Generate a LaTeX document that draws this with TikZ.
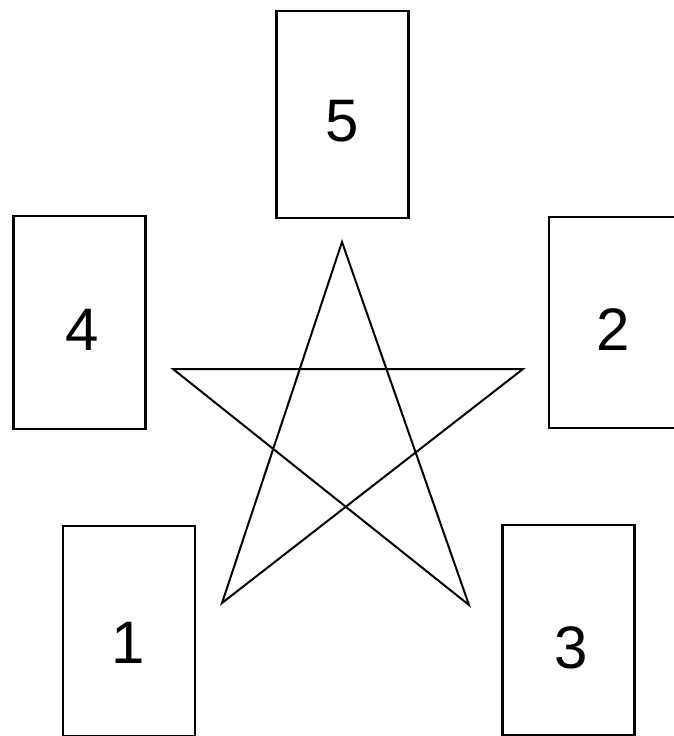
\documentclass[tikz,border=0pt]{standalone}
\usepackage{fontspec}
\setmainfont{Liberation Sans}
\usepackage{tikz}

\tikzset{
  card/.style={draw, line width=2.6pt, minimum width=132pt, minimum height=210pt, inner sep=0pt},
  digit/.style={inner sep=0pt, font=\fontsize{60}{60}\selectfont}
}

\begin{document}
\begin{tikzpicture}[x=1pt, y=-1pt]
        \useasboundingbox (0,0) rectangle (674,736);
        \clip (0,0) rectangle (674,736);

        \coordinate (T) at (342, 242);
        \coordinate (L) at (173, 369);
        \coordinate (R) at (523, 369);
        \coordinate (BL) at (222, 603);
        \coordinate (BR) at (469, 605);

        \node[card, minimum height=207pt] (card5) at (342.5, 114.5) {};
        \node[card, minimum height=213pt] (card4) at (79.5, 322.5) {};
        \node[card, minimum height=211pt] (card2) at (615, 322.5) {};
        \node[card] (card1) at (129, 631) {};
        \node[card] (card3) at (568.5, 630) {};

        \draw[line width=2pt, line join=miter] (T) -- (BL) -- (R) -- (L) -- (BR) -- cycle;

        \node[digit] (n5) at (342, 121) {5};
        \node[digit] (n4) at (82, 330) {4};
        \node[digit] (n2) at (613, 330) {2};
        \node[digit] (n1) at (128, 643) {1};
        \node[digit] (n3) at (571, 648) {3};
    \end{tikzpicture}
\end{document}
